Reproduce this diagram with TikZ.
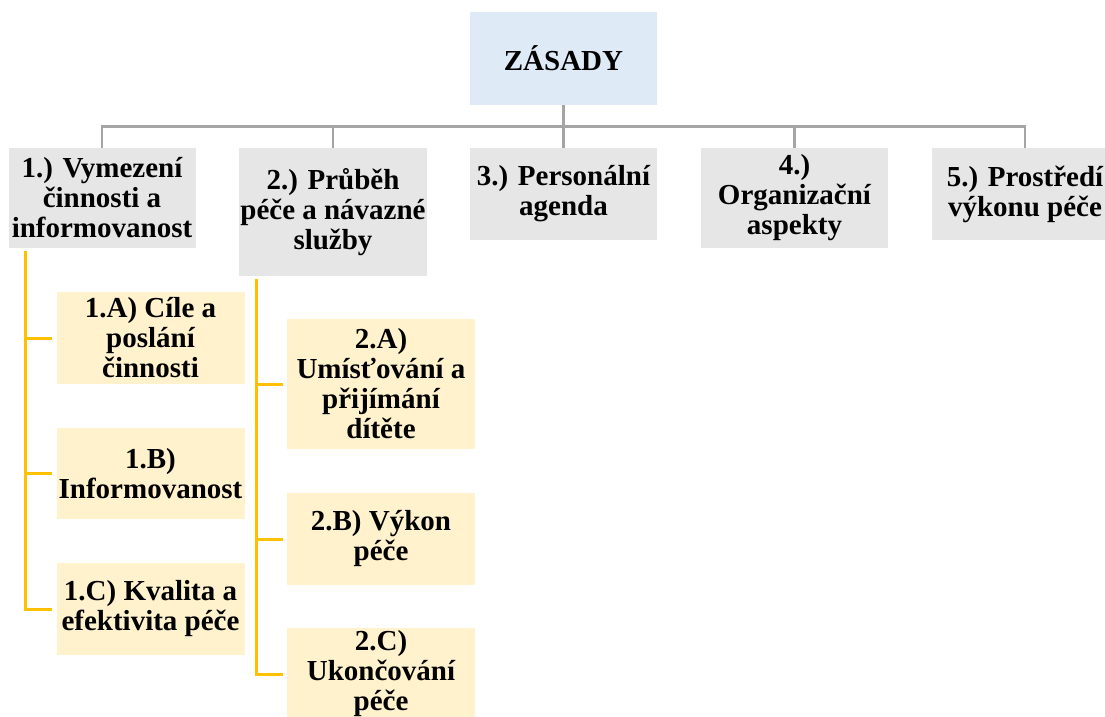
\documentclass[tikz,border=0pt]{standalone}
\usepackage{fontspec}
\setmainfont{Liberation Serif}[BoldFont={Liberation Serif Bold}]
\definecolor{rootfill}{HTML}{DEEBF7}
\definecolor{topfill}{HTML}{E7E6E6}
\definecolor{subfill}{HTML}{FFF2CC}
\definecolor{grayline}{HTML}{A5A5A5}
\definecolor{goldline}{HTML}{FFC000}
\tikzset{
  basebox/.style={inner sep=0pt, align=center, font=\bfseries\fontsize{29}{30}\selectfont},
  rootbox/.style={basebox, fill=rootfill, minimum width=187, minimum height=93},
  topbox/.style={basebox, fill=topfill, minimum width=187},
  subbox/.style={basebox, fill=subfill, minimum width=188},
  graylink/.style={draw=grayline, line width=2.8pt},
  goldlink/.style={draw=goldline, line width=3pt, shorten <=3pt, shorten >=4pt},
}
\begin{document}
\begin{tikzpicture}[x=1pt,y=-1pt]
\useasboundingbox (0,0) rectangle (1105,717);
\clip (0,0) rectangle (1105,717);

% root
\node[rootbox] (root) at (563.5,58.5) {ZÁSADY};

% first level
\node[topbox, minimum height=100] (t1) at (102,198) {1.) Vymezení\\činnosti a\\informovanost};
\node[topbox, minimum height=128, minimum width=188] (t2) at (333,212) {2.) Průběh\\péče a návazné\\služby};
\node[topbox, minimum height=92] (t3) at (563.5,194) {3.) Personální\\agenda};
\node[topbox, minimum height=100] (t4) at (794.5,198) {4.)\\Organizační\\aspekty};
\node[topbox, minimum height=92] (t5) at (1025,194) {5.) Prostředí\\výkonu péče};

% second level, branch 1
\node[subbox, minimum height=92] (s1a) at (150.5,338) {1.A) Cíle a\\poslání\\činnosti};
\node[subbox, minimum height=91] (s1b) at (150.5,473.5) {1.B)\\Informovanost};
\node[subbox, minimum height=92] (s1c) at (150.5,609) {1.C) Kvalita a\\efektivita péče};

% second level, branch 2
\node[subbox, minimum height=130] (s2a) at (381,384) {2.A)\\Umísťování a\\přijímání\\dítěte};
\node[subbox, minimum height=92] (s2b) at (381,539) {2.B) Výkon\\péče};
\node[subbox, minimum height=92] (s2c) at (381,674) {2.C)\\Ukončování\\péče};

% gray tree connectors
\foreach \t in {t1,t2,t3,t4,t5}
  \draw[graylink] (root.south) -- ++(0,21) -| (\t.north);

% gold branch connectors
\foreach \s in {s1a,s1b,s1c}
  \draw[goldlink] ([xshift=17pt]t1.south west) |- (\s.west);
\foreach \s in {s2a,s2b,s2c}
  \draw[goldlink] ([xshift=18pt]t2.south west) |- (\s.west);
\end{tikzpicture}
\end{document}
